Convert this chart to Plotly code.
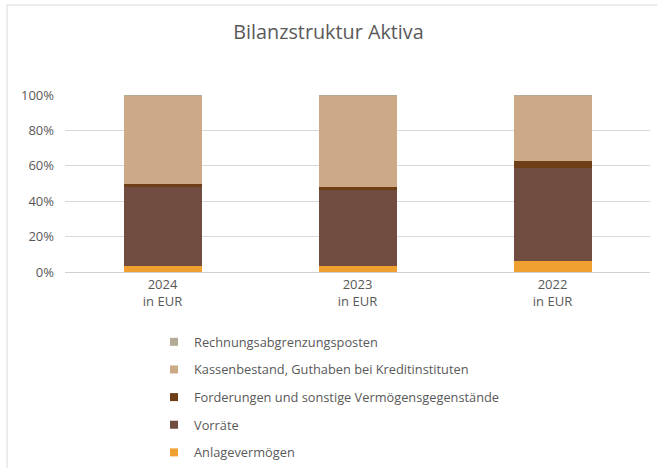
import plotly.graph_objects as go

categories = ["2024<br>in EUR", "2023<br>in EUR", "2022<br>in EUR"]
series_names = [
    "Anlagevermögen",
    "Vorräte",
    "Forderungen und sonstige Vermögensgegenstände",
    "Kassenbestand, Guthaben bei Kreditinstituten",
    "Rechnungsabgrenzungsposten",
]
anlage = [3.4, 3.4, 6.4]
vorraete = [44.4, 43.4, 52.5]
forderungen = [2.2, 1.0, 3.7]
kasse = [49.9, 52.1, 37.3]
rap = [0.1, 0.1, 0.1]
values = [anlage, vorraete, forderungen, kasse, rap]
colors = ["#F0A030", "#714C40", "#6E3F17", "#CDAA87", "#B5AB94"]

fig = go.Figure()
for name, vals, col in zip(series_names, values, colors):
    fig.add_trace(go.Bar(x=categories, y=vals, name=name, marker_color=col,
                         marker_line_width=0, showlegend=False))
# legend entries (top to bottom in reversed order)
for i, (name, col) in enumerate(reversed(list(zip(series_names, colors)))):
    fig.add_trace(go.Scatter(x=[None], y=[None], mode="markers", name=name,
                             marker=dict(symbol="square", size=8, color=col),
                             legendgroup=f"g{i}", showlegend=True))

text_col = "#595959"
fig.update_layout(
    width=657, height=468,
    margin=dict(l=65, r=7, t=95, b=196, autoexpand=False),
    barmode="stack", bargap=0.6,
    paper_bgcolor="white", plot_bgcolor="white",
    font=dict(family="Open Sans", size=12.5, color=text_col),
    title=dict(text="Bilanzstruktur Aktiva", x=0.5, xanchor="center",
               y=1 - 32.5 / 468, yanchor="middle",
               font=dict(family="Open Sans", size=19.8, color=text_col)),
    legend=dict(x=(154 - 65) / 585, xanchor="left", y=(272 - 327) / 177, yanchor="top",
                traceorder="grouped", tracegroupgap=8,
                font=dict(family="Open Sans", size=12.8, color=text_col),
                bgcolor="rgba(0,0,0,0)"),
    xaxis=dict(showgrid=False, showline=True, linecolor="#D0D0D0", linewidth=1,
               ticks="", tickfont=dict(size=13, color=text_col), fixedrange=True),
    yaxis=dict(range=[0, 100], dtick=20, ticksuffix="%", showgrid=True,
               gridcolor="#D9D9D9", gridwidth=1, zeroline=False, showline=False,
               ticks="", tickfont=dict(size=13, color=text_col), ticklabelstandoff=10,
               fixedrange=True),
    shapes=[dict(type="rect", xref="paper", yref="paper",
                 x0=(7 - 65) / 585, x1=(680 - 65) / 585,
                 y0=(272 - 490) / 177, y1=(272 - 5) / 177,
                 line=dict(color="#D9D9D9", width=1), layer="below")],
)

fig.write_html("out.html", config={"displayModeBar": False},
               post_script="document.body.style.margin='0';document.body.style.overflow='hidden';")
